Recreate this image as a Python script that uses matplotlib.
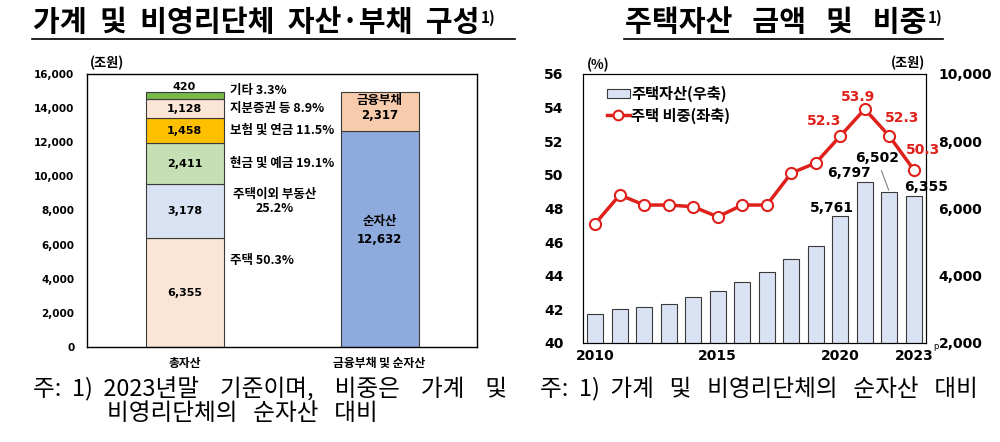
import matplotlib.pyplot as plt
from matplotlib.lines import Line2D
from matplotlib.patches import Patch
import numpy as np

plt.rcParams['font.family'] = ['Noto Sans CJK KR', 'DejaVu Sans']

# left chart: composition, 조원
categories = ['총자산', '금융부채 및 순자산']
asset_names = ['주택', '주택이외 부동산', '현금 및 예금', '보험 및 연금', '지분증권 등', '기타']
asset_values = [6355, 3178, 2411, 1458, 1128, 420]
asset_shares = [50.3, 25.2, 19.1, 11.5, 8.9, 3.3]
liab_names = ['순자산', '금융부채']
liab_values = [12632, 2317]

# right chart: housing assets
years = list(range(2010, 2024))
house_amount = [2854, 3022, 3082, 3171, 3370, 3548, 3826, 4104, 4511, 4868, 5761, 6797, 6502, 6355]
house_share = [47.1, 48.8, 48.2, 48.2, 48.1, 47.5, 48.2, 48.2, 50.1, 50.7, 52.3, 53.9, 52.3, 50.3]

asset_colors = ['#FBE5D6', '#DAE3F3', '#C5E0B4', '#FFC000', '#FBE5D6', '#78B84A']
liab_colors = ['#8FAADC', '#F8CBAD']
edge = '#3A3A3A'
red = '#E0201B'
num = dict(family='DejaVu Sans', fontweight='bold')

fig = plt.figure(figsize=(10, 4.42), dpi=100)

# ---------------- left chart
ax1 = fig.add_axes([0.087, 0.215, 0.39, 0.618])
bw = 0.4
bottoms = np.concatenate([[0], np.cumsum(asset_values)[:-1]])
for v, b, c in zip(asset_values, bottoms, asset_colors):
    ax1.bar(0, v, bottom=b, width=bw, color=c, edgecolor=edge, lw=0.8)

# values inside segments
for i, (v, b) in enumerate(zip(asset_values, bottoms)):
    if i == len(asset_values) - 1:
        ax1.text(0, b + v + 280, f'{v:,}', ha='center', va='center', fontsize=8, **num)
    else:
        ax1.text(0, b + v / 2, f'{v:,}', ha='center', va='center', fontsize=8, **num)

# side labels
side_dy = [1860, 590, 0, 0, 0, 260]
for i, (n, s, v, b) in enumerate(zip(asset_names, asset_shares, asset_values, bottoms)):
    y = b + v / 2 + side_dy[i]
    if i == 1:
        ax1.text(0.46, y, f'{n}\n{s}%', ha='center', va='center', fontsize=9,
                 fontweight='bold', multialignment='center', linespacing=1.15)
    else:
        ax1.text(0.234, y, f'{n} {s}%', ha='left', va='center', fontsize=9, fontweight='bold')

lb = np.concatenate([[0], np.cumsum(liab_values)[:-1]])
for v, b, c in zip(liab_values, lb, liab_colors):
    ax1.bar(1, v, bottom=b, width=bw, color=c, edgecolor=edge, lw=0.8)
ax1.text(1, lb[0] + liab_values[0] / 2 + 1060, liab_names[0], ha='center', va='center',
         fontsize=9, fontweight='bold')
ax1.text(1, lb[0] + liab_values[0] / 2, f'{liab_values[0]:,}', ha='center', va='center',
         fontsize=8.5, **num)
ax1.text(1, lb[1] + liab_values[1] / 2 + 630, liab_names[1], ha='center', va='center',
         fontsize=9, fontweight='bold')
ax1.text(1, lb[1] + liab_values[1] / 2 - 250, f'{liab_values[1]:,}', ha='center', va='center',
         fontsize=8.5, **num)

ax1.set_xlim(-0.5, 1.5)
ax1.set_ylim(0, 16000)
ax1.set_yticks(range(0, 16001, 2000))
ax1.set_yticklabels([f'{t:,}' for t in range(0, 16001, 2000)], fontsize=7.5, **num)
ax1.set_xticks([0, 1])
ax1.set_xticklabels(categories, fontsize=8.5, fontweight='bold')
ax1.tick_params(axis='y', length=0, pad=9)
ax1.tick_params(axis='x', length=0, pad=7)
for sp in ax1.spines.values():
    sp.set_linewidth(1)
fig.text(0.09, 1 - 63 / 442, '(조원)', fontsize=9.5, fontweight='bold', va='center')

# ---------------- right chart
ax = fig.add_axes([0.583, 0.224, 0.343, 0.609])
ax2 = ax.twinx()
ax2.bar(years, house_amount, width=0.67, color='#DAE3F3', edgecolor=edge, lw=0.8)
ax2.set_ylim(2000, 10000)
ax2.set_yticks(range(2000, 10001, 2000))
ax2.set_yticklabels([f'{t:,}' for t in range(2000, 10001, 2000)], fontsize=10, **num)
ax2.tick_params(axis='y', length=0, pad=9)

ax.plot(years, house_share, color=red, lw=2.5, marker='o', ms=8, mfc='white', mec=red, mew=1.5)
ax.set_xlim(2009.5, 2023.5)
ax.set_ylim(40, 56)
ax.set_yticks(range(40, 57, 2))
ax.set_yticklabels([str(t) for t in range(40, 57, 2)], fontsize=10, **num)
ax.set_xticks([2010, 2015, 2020, 2023])
ax.set_xticklabels(['2010', '2015', '2020', '2023'], fontsize=10, **num)
ax.tick_params(axis='y', length=0, pad=14)
ax.tick_params(axis='x', length=0, pad=4)
ax.set_zorder(ax2.get_zorder() + 1)
ax.patch.set_visible(False)
ax.annotate('p', xy=(2023, 0), xycoords=('data', 'axes fraction'), xytext=(14, -4),
            textcoords='offset points', fontsize=6, family='DejaVu Sans')

# share labels
share_off = {2020: (-12, 11), 2021: (-5, 9), 2022: (9, 13), 2023: (7, 14)}
for yr, off in share_off.items():
    v = house_share[years.index(yr)]
    ax.annotate(f'{v}', xy=(yr, v), xytext=off, textcoords='offset points',
                ha='center', va='center', color=red, fontsize=10, **num)

# amount labels
amt_off = {2020: (-6, 6), 2021: (-11.5, 6), 2022: (-9, 24), 2023: (9, 6.5)}
for yr, off in amt_off.items():
    v = house_amount[years.index(yr)]
    kw = {}
    if yr == 2022:
        kw = dict(arrowprops=dict(arrowstyle='-', color='#808080', lw=0.8, shrinkA=2, shrinkB=1))
    ax2.annotate(f'{v:,}', xy=(yr, v), xytext=off, textcoords='offset points',
                 ha='center', va='center', fontsize=10, **num, **kw)

handles = [Patch(facecolor='#DAE3F3', edgecolor=edge, lw=0.8),
           Line2D([], [], color=red, lw=2.5, marker='o', ms=7, mfc='white', mec=red, mew=1.5)]
ax.legend(handles, ['주택자산(우축)', '주택 비중(좌축)'], loc='upper left',
          bbox_to_anchor=(0.07, 0.955), frameon=False, borderpad=0, borderaxespad=0,
          handlelength=1.5, handleheight=0.6, handletextpad=0.1, labelspacing=0.35,
          prop=dict(size=11, weight='bold'))

fig.text(0.587, 1 - 65 / 442, '(%)', fontsize=9.5, fontweight='bold', va='center')
fig.text(0.891, 1 - 63 / 442, '(조원)', fontsize=9.5, fontweight='bold', va='center')

# ---------------- titles
t1 = fig.text(0.033, 1 - 22 / 442, '가계  및  비영리단체  자산·부채  구성', fontsize=21,
              fontweight='bold', va='center')
ax1.annotate('1)', xy=(1, 1), xycoords=t1, xytext=(1, -2), textcoords='offset points',
             ha='left', va='top', fontsize=11, fontweight='bold')
t2 = fig.text(0.625, 1 - 22 / 442, '주택자산   금액   및   비중', fontsize=21,
              fontweight='bold', va='center')
ax.annotate('1)', xy=(1, 1), xycoords=t2, xytext=(1, -2), textcoords='offset points',
            ha='left', va='top', fontsize=11, fontweight='bold')
fig.add_artist(Line2D([0.032, 0.515], [1 - 39 / 442] * 2, color='black', lw=1.2))
fig.add_artist(Line2D([0.624, 0.943], [1 - 39 / 442] * 2, color='black', lw=1.2))

# ---------------- footnotes
fig.text(0.033, 1 - 389 / 442, '주:  1)  2023년말    기준이며,    비중은    가계    및',
         fontsize=17, va='center')
fig.text(0.107, 1 - 414 / 442, '비영리단체의   순자산   대비', fontsize=17, va='center')
fig.text(0.540, 1 - 389 / 442, '주:  1)  가계   및   비영리단체의   순자산   대비',
         fontsize=17, va='center')

fig.savefig('out.png', dpi=100)
